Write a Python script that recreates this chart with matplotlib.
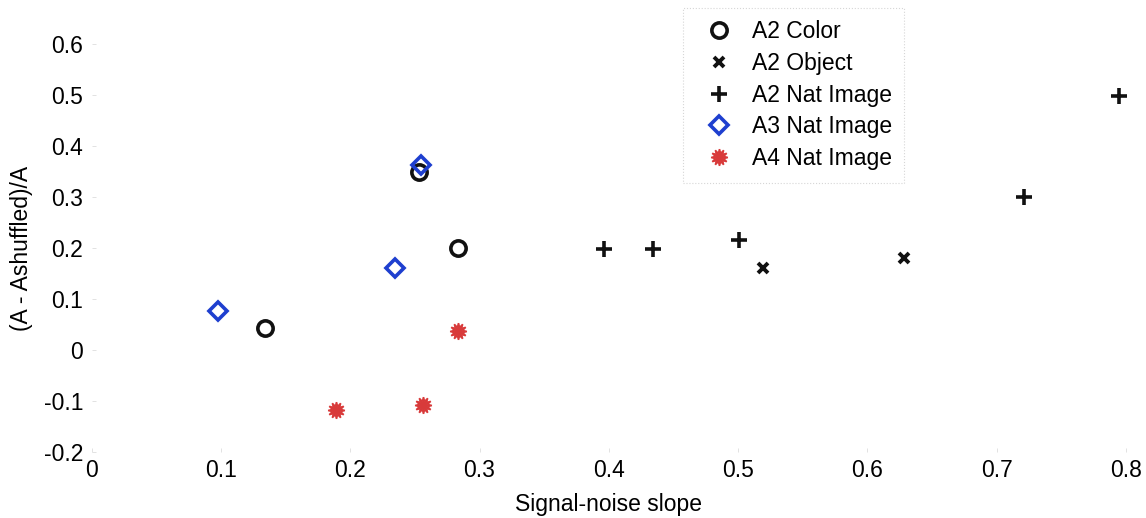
import matplotlib
matplotlib.use("Agg")
import matplotlib.pyplot as plt

plt.rcParams["font.family"] = ["Liberation Sans", "DejaVu Sans"]

# A2 Color (open circles)
a2_color_x = [0.134, 0.253, 0.283]
a2_color_y = [0.043, 0.349, 0.200]
# A2 Object (x)
a2_object_x = [0.519, 0.628]
a2_object_y = [0.161, 0.180]
# A2 Nat Image (+)
a2_nat_x = [0.396, 0.434, 0.501, 0.721, 0.795]
a2_nat_y = [0.198, 0.198, 0.216, 0.300, 0.498]
# A3 Nat Image (blue diamonds)
a3_nat_x = [0.098, 0.235, 0.255]
a3_nat_y = [0.076, 0.161, 0.363]
# A4 Nat Image (red stars)
a4_nat_x = [0.189, 0.256, 0.283]
a4_nat_y = [-0.118, -0.108, 0.037]

x_ticks = [0, 0.1, 0.2, 0.3, 0.4, 0.5, 0.6, 0.7, 0.8]
y_ticks = [-0.2, -0.1, 0, 0.1, 0.2, 0.3, 0.4, 0.5, 0.6]

FS = 16.5

fig = plt.figure(figsize=(11.46, 5.18), dpi=100)
ax = fig.add_axes([0.080, 0.1274, 0.9025, 0.7876])

ax.plot(a2_color_x, a2_color_y, linestyle="none", marker="o", ms=11,
        mfc="none", mec="#111111", mew=2.6, label="A2 Color")
ax.plot(a2_object_x, a2_object_y, linestyle="none", marker="x", ms=7,
        mec="#111111", mew=2.8, label="A2 Object")
ax.plot(a2_nat_x, a2_nat_y, linestyle="none", marker="+", ms=12,
        mec="#111111", mew=2.6, label="A2 Nat Image")
ax.plot(a3_nat_x, a3_nat_y, linestyle="none", marker="D", ms=9,
        mfc="none", mec="#1e3fcf", mew=2.6, label="A3 Nat Image")
ax.plot(a4_nat_x, a4_nat_y, linestyle="none", marker=(12, 1, 0), ms=12,
        mfc="#d83a3a", mec="#d83a3a", mew=1.2, label="A4 Nat Image")

ax.set_xlim(0, 0.8)
ax.set_ylim(-0.2, 0.6)
ax.set_xticks(x_ticks)
ax.set_xticklabels(["0", "0.1", "0.2", "0.3", "0.4", "0.5", "0.6", "0.7", "0.8"])
ax.set_yticks(y_ticks)
ax.set_yticklabels(["-0.2", "-0.1", "0", "0.1", "0.2", "0.3", "0.4", "0.5", "0.6"])
ax.tick_params(labelsize=FS, length=3, width=0.6, color="#dddddd",
               direction="in")
ax.tick_params(axis="x", pad=5)
ax.tick_params(axis="y", pad=6)
for s in ax.spines.values():
    s.set_visible(False)

ax.set_xlabel("Signal-noise slope", fontsize=FS, labelpad=8)
ax.set_ylabel("(A - Ashuffled)/A", fontsize=FS, labelpad=8)

leg = ax.legend(loc="upper left", bbox_to_anchor=(0.596, 0.985),
                bbox_transform=fig.transFigure, borderaxespad=0,
                fontsize=FS, frameon=True, fancybox=False,
                handletextpad=0.45, labelspacing=0.38, borderpad=0.55,
                handlelength=2.0)
leg.get_frame().set_edgecolor("#cccccc")
leg.get_frame().set_linewidth(0.8)
leg.get_frame().set_linestyle(":")

fig.savefig("out.png", dpi=100)
